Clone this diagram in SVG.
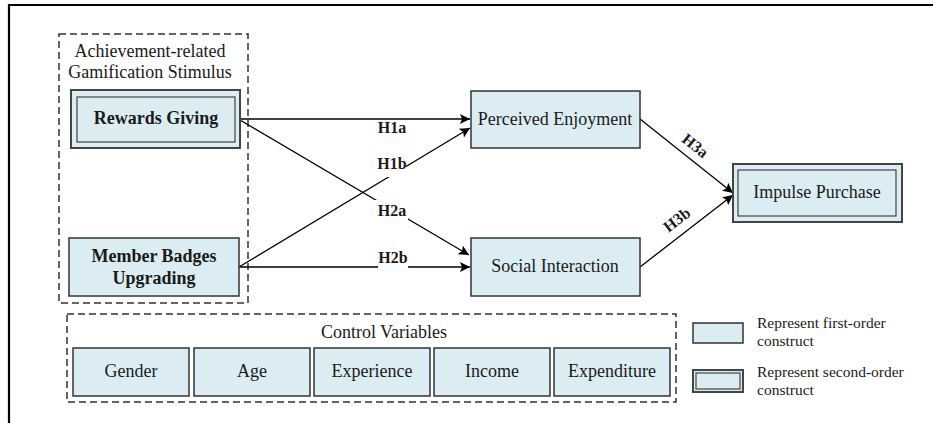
<svg xmlns="http://www.w3.org/2000/svg" width="933" height="423" viewBox="0 0 933 423">
<style>
text{font-family:"Liberation Serif","Times New Roman",serif;fill:#1a1a1a}
.t{font-size:18px;text-anchor:middle}
.b{font-size:18px;font-weight:bold;text-anchor:middle}
.h{font-size:16px;font-weight:bold;text-anchor:middle}
.lg{font-size:15.5px}
.box{fill:#dbedf3;stroke:#333;stroke-width:1.5}
.outer{fill:#dbedf3;stroke:#444;stroke-width:2}
.inner{fill:none;stroke:#444;stroke-width:1.2}
.dash{fill:none;stroke:#333;stroke-width:1.5;stroke-dasharray:7,4}
.ln{fill:none;stroke:#000;stroke-width:1.3}
.bg{fill:#fff}
</style>
<defs>
<marker id="arr" viewBox="0 0 10 10" refX="10" refY="5" markerWidth="10" markerHeight="10" markerUnits="userSpaceOnUse" orient="auto">
<path d="M0,0 L10,5 L0,10 L2,5 Z" fill="#000"/>
</marker>
</defs>
<rect x="0" y="0" width="933" height="423" fill="#fff"/>
<path d="M9,423 V5 H933" fill="none" stroke="#000" stroke-width="2.2"/>

<g id="stimulus-group">
<rect class="dash" x="59" y="34" width="189" height="269"/>
<text class="t" x="150" y="57">Achievement-related</text>
<text class="t" x="150" y="78">Gamification Stimulus</text>
</g>

<g id="connectors">
<line class="ln" x1="240" y1="119" x2="470" y2="119" marker-end="url(#arr)"/>
<line class="ln" x1="239" y1="267" x2="470" y2="128" marker-end="url(#arr)"/>
<line class="ln" x1="240" y1="120" x2="469" y2="255" marker-end="url(#arr)"/>
<line class="ln" x1="239" y1="267" x2="470" y2="267" marker-end="url(#arr)"/>
<line class="ln" x1="640" y1="119" x2="733" y2="193" marker-end="url(#arr)"/>
<line class="ln" x1="640" y1="267" x2="733" y2="195" marker-end="url(#arr)"/>
<rect class="bg" x="377" y="120" width="30" height="18"/>
<text class="h" x="392" y="133">H1a</text>
<rect class="bg" x="379" y="155" width="27" height="22"/>
<text class="h" x="392" y="169">H1b</text>
<rect class="bg" x="375" y="200" width="33" height="20"/>
<text class="h" x="392" y="216">H2a</text>
<rect class="bg" x="378" y="250" width="30" height="20"/>
<text class="h" x="393" y="263">H2b</text>
<text class="h" transform="translate(695,146) rotate(38.5)" x="0" y="5">H3a</text>
<text class="h" transform="translate(677,220) rotate(-37.7)" x="0" y="5">H3b</text>
</g>

<g id="rewards-giving">
<rect class="outer" x="71" y="90" width="169" height="58"/>
<rect class="inner" x="77" y="97" width="158" height="45"/>
<text class="b" x="156" y="124">Rewards  Giving</text>
</g>

<g id="member-badges">
<rect class="box" x="69" y="238" width="170" height="58"/>
<text class="b" x="154" y="262">Member Badges</text>
<text class="b" x="154" y="284">Upgrading</text>
</g>

<g id="perceived-enjoyment">
<rect class="box" x="471" y="91" width="169" height="57"/>
<text class="t" x="555" y="125">Perceived Enjoyment</text>
</g>

<g id="social-interaction">
<rect class="box" x="471" y="238" width="169" height="58"/>
<text class="t" x="555" y="272">Social Interaction</text>
</g>

<g id="impulse-purchase">
<rect class="outer" x="733" y="164" width="169" height="58"/>
<rect class="inner" x="738" y="170" width="158" height="46"/>
<text class="t" x="817" y="198">Impulse Purchase</text>
</g>

<g id="control-variables">
<rect class="dash" x="67" y="314" width="609" height="88"/>
<text class="t" x="384" y="338">Control Variables</text>
</g>
<g id="gender"><rect class="box" x="73" y="348" width="116" height="48"/><text class="t" x="131" y="377">Gender</text></g>
<g id="age"><rect class="box" x="194" y="348" width="116" height="48"/><text class="t" x="252" y="377">Age</text></g>
<g id="experience"><rect class="box" x="314" y="348" width="116" height="48"/><text class="t" x="372" y="377">Experience</text></g>
<g id="income"><rect class="box" x="434" y="348" width="116" height="48"/><text class="t" x="492" y="377">Income</text></g>
<g id="expenditure"><rect class="box" x="554" y="348" width="116" height="48"/><text class="t" x="612" y="377">Expenditure</text></g>

<g id="legend-first">
<rect class="box" x="693" y="323" width="50" height="20"/>
<text class="lg" x="757" y="328">Represent first-order</text>
<text class="lg" x="757" y="346">construct</text>
</g>
<g id="legend-second">
<rect class="outer" x="693" y="370" width="50" height="22"/>
<rect class="inner" x="696" y="373" width="44" height="16"/>
<text class="lg" x="757" y="377">Represent second-order</text>
<text class="lg" x="757" y="395">construct</text>
</g>
</svg>
